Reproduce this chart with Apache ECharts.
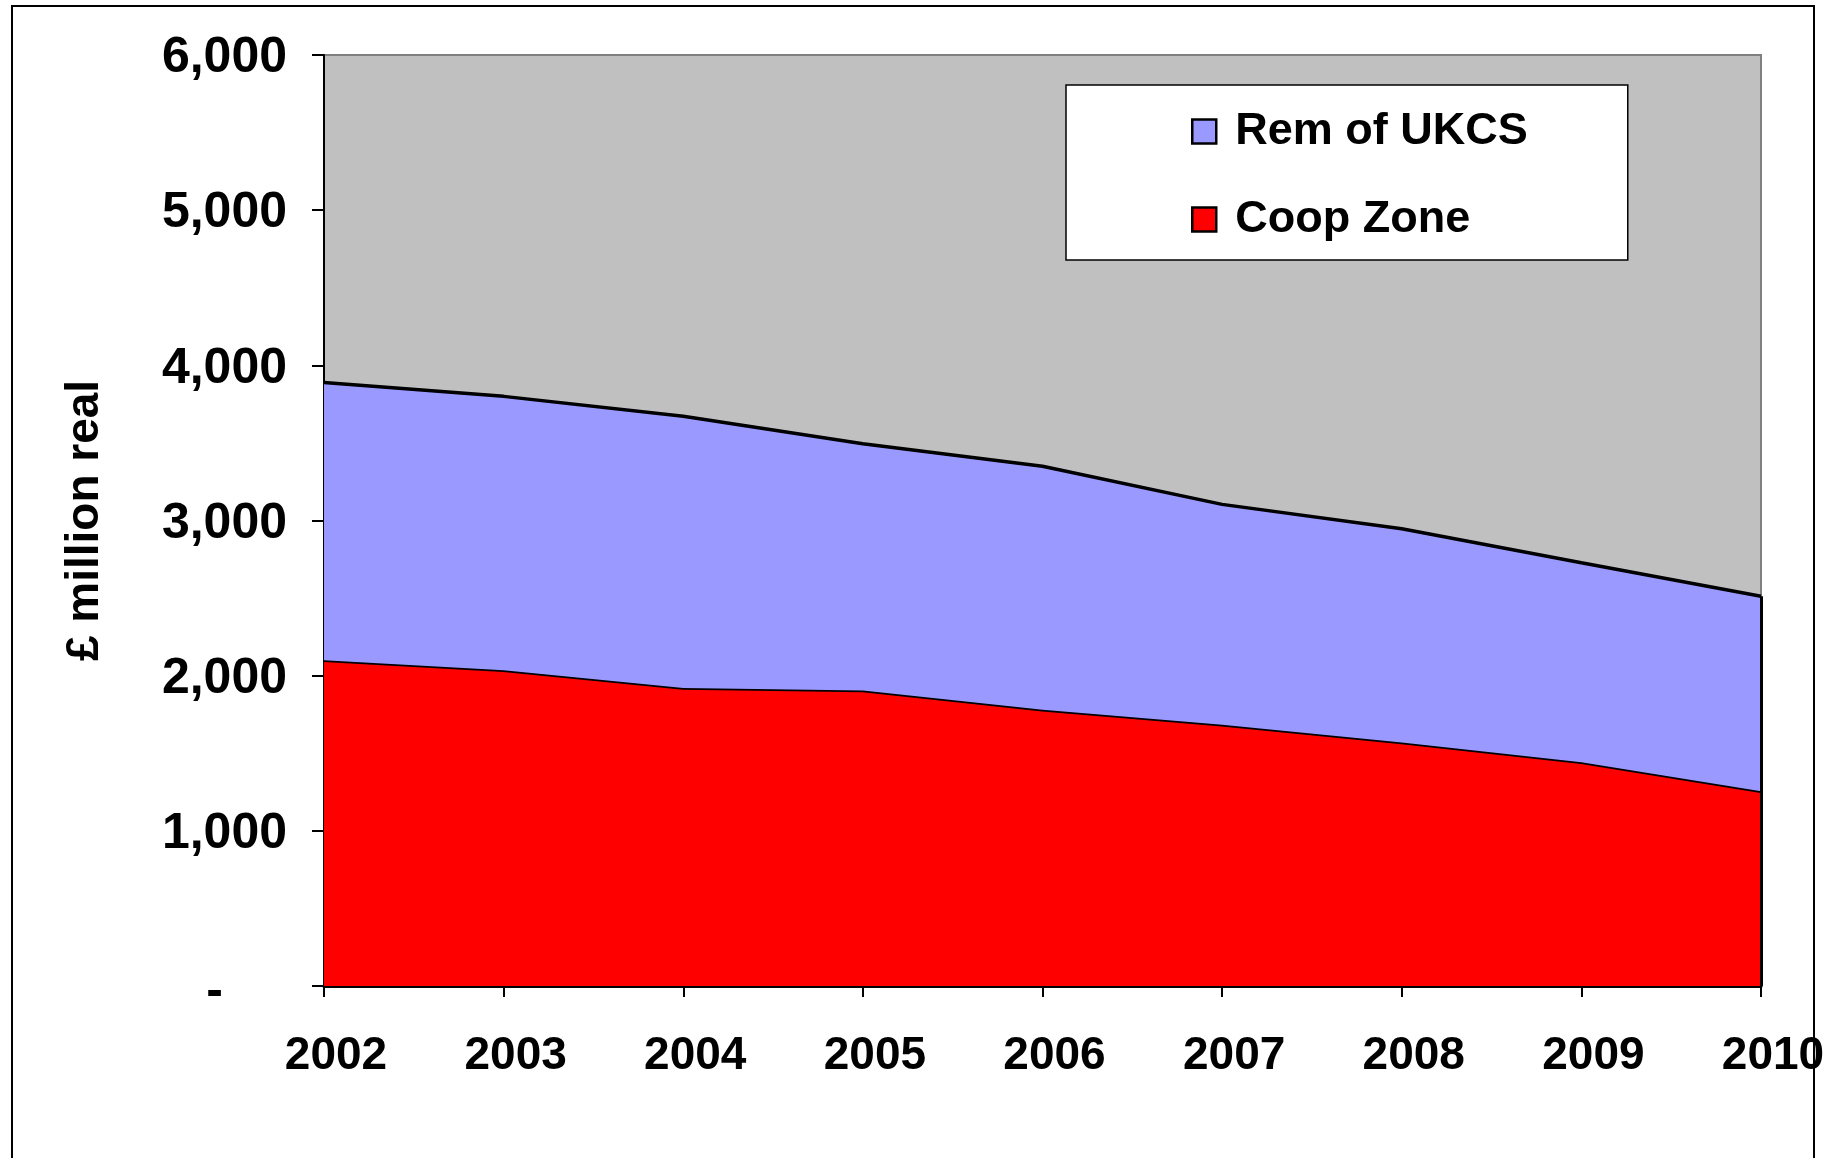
<!DOCTYPE html>
<html>
<head>
<meta charset="utf-8">
<script src="https://cdn.jsdelivr.net/npm/echarts@6/dist/echarts.min.js"></script>
<style>
    html, body { margin: 0; padding: 0; background: #ffffff; }
    #myChart { width: 1836px; height: 1158px; }
</style>
</head>
<body>
<div id="myChart"></div>
<script>
// years on the x axis
var years = ['2002', '2003', '2004', '2005', '2006', '2007', '2008', '2009', '2010'];
// £ million real
var coopZone = [2100, 2035, 1920, 1905, 1780, 1683, 1570, 1442, 1255];
var remOfUkcs = [1790, 1765, 1752, 1590, 1570, 1421, 1377, 1286, 1257];
var yTicks = [0, 1000, 2000, 3000, 4000, 5000, 6000];

var fontName = '"Liberation Sans", Arial, sans-serif';

var myChart = echarts.init(document.getElementById('myChart'));

var lastIdx = years.length - 1;
var topLast = coopZone[lastIdx] + remOfUkcs[lastIdx];

var option = {
    backgroundColor: '#ffffff',
    animation: false,
    textStyle: { fontFamily: fontName },
    // outer chart frame
    graphic: [{
        type: 'rect',
        shape: { x: 12, y: 6, width: 1802, height: 1180 },
        style: { fill: 'none', stroke: '#000', lineWidth: 2 },
        silent: true
    }],
    grid: {
        left: 324,
        right: 75,
        top: 55,
        bottom: 172,
        show: true,
        backgroundColor: '#c0c0c0',
        borderColor: '#808080',
        borderWidth: 2
    },
    legend: {
        orient: 'vertical',
        left: 1066,
        top: 85,
        data: ['Rem of UKCS', 'Coop Zone'],
        backgroundColor: '#ffffff',
        borderColor: '#000',
        borderWidth: 1.5,
        borderRadius: 0,
        padding: [24, 100, 18, 125],
        itemGap: 43,
        itemWidth: 24,
        itemHeight: 24,
        icon: 'rect',
        itemStyle: { borderColor: '#000', borderWidth: 2.5 },
        textStyle: {
            fontFamily: fontName,
            fontSize: 45,
            fontWeight: 'bold',
            color: '#000',
            padding: [0, 0, 0, 14]
        }
    },
    xAxis: {
        type: 'category',
        boundaryGap: false,
        data: years,
        axisLine: { show: true, lineStyle: { color: '#000', width: 3 } },
        axisTick: { show: true, length: 11, lineStyle: { color: '#000', width: 2 } },
        axisLabel: {
            margin: 47,
            padding: [0, 0, 0, 24],
            fontFamily: fontName,
            fontSize: 46,
            fontWeight: 'bold',
            color: '#000'
        },
        splitLine: { show: false }
    },
    yAxis: {
        type: 'value',
        min: yTicks[0],
        max: yTicks[yTicks.length - 1],
        interval: 1000,
        name: '£ million real',
        nameLocation: 'middle',
        nameRotate: 90,
        nameGap: 216,
        nameTextStyle: {
            fontFamily: fontName,
            fontSize: 46,
            fontWeight: 'bold',
            color: '#000'
        },
        axisLine: { show: true, lineStyle: { color: '#000', width: 2 } },
        axisTick: { show: true, length: 12, lineStyle: { color: '#000', width: 2 } },
        axisLabel: {
            margin: 37,
            padding: [7, 0, 0, 0],
            fontFamily: fontName,
            fontSize: 50,
            fontWeight: 'bold',
            color: '#000',
            formatter: function (v) {
                if (v === 0) return '{dash|-}';
                return v.toLocaleString('en-GB');
            },
            rich: {
                dash: {
                    fontFamily: fontName,
                    fontSize: 50,
                    fontWeight: 'bold',
                    color: '#000',
                    padding: [6, 64, 0, 0]
                }
            }
        },
        splitLine: { show: false }
    },
    series: [
        {
            name: 'Coop Zone',
            type: 'line',
            stack: 'total',
            data: coopZone,
            showSymbol: false,
            symbol: 'none',
            itemStyle: { color: '#ff0000', borderColor: '#000', borderWidth: 2 },
            lineStyle: { color: '#000', width: 3.5 },
            areaStyle: { color: '#ff0000', opacity: 1 },
            z: 2
        },
        {
            name: 'Rem of UKCS',
            type: 'line',
            stack: 'total',
            data: remOfUkcs,
            showSymbol: false,
            symbol: 'none',
            itemStyle: { color: '#9999ff', borderColor: '#000', borderWidth: 2 },
            lineStyle: { color: '#000', width: 3.5 },
            areaStyle: { color: '#9999ff', opacity: 1 },
            markLine: {
                silent: true,
                symbol: 'none',
                label: { show: false },
                lineStyle: { color: '#000', width: 3, type: 'solid' },
                data: [[
                    { coord: [years[lastIdx], 0] },
                    { coord: [years[lastIdx], topLast] }
                ]]
            },
            z: 3
        }
    ]
};

myChart.setOption(option);
</script>
</body>
</html>
